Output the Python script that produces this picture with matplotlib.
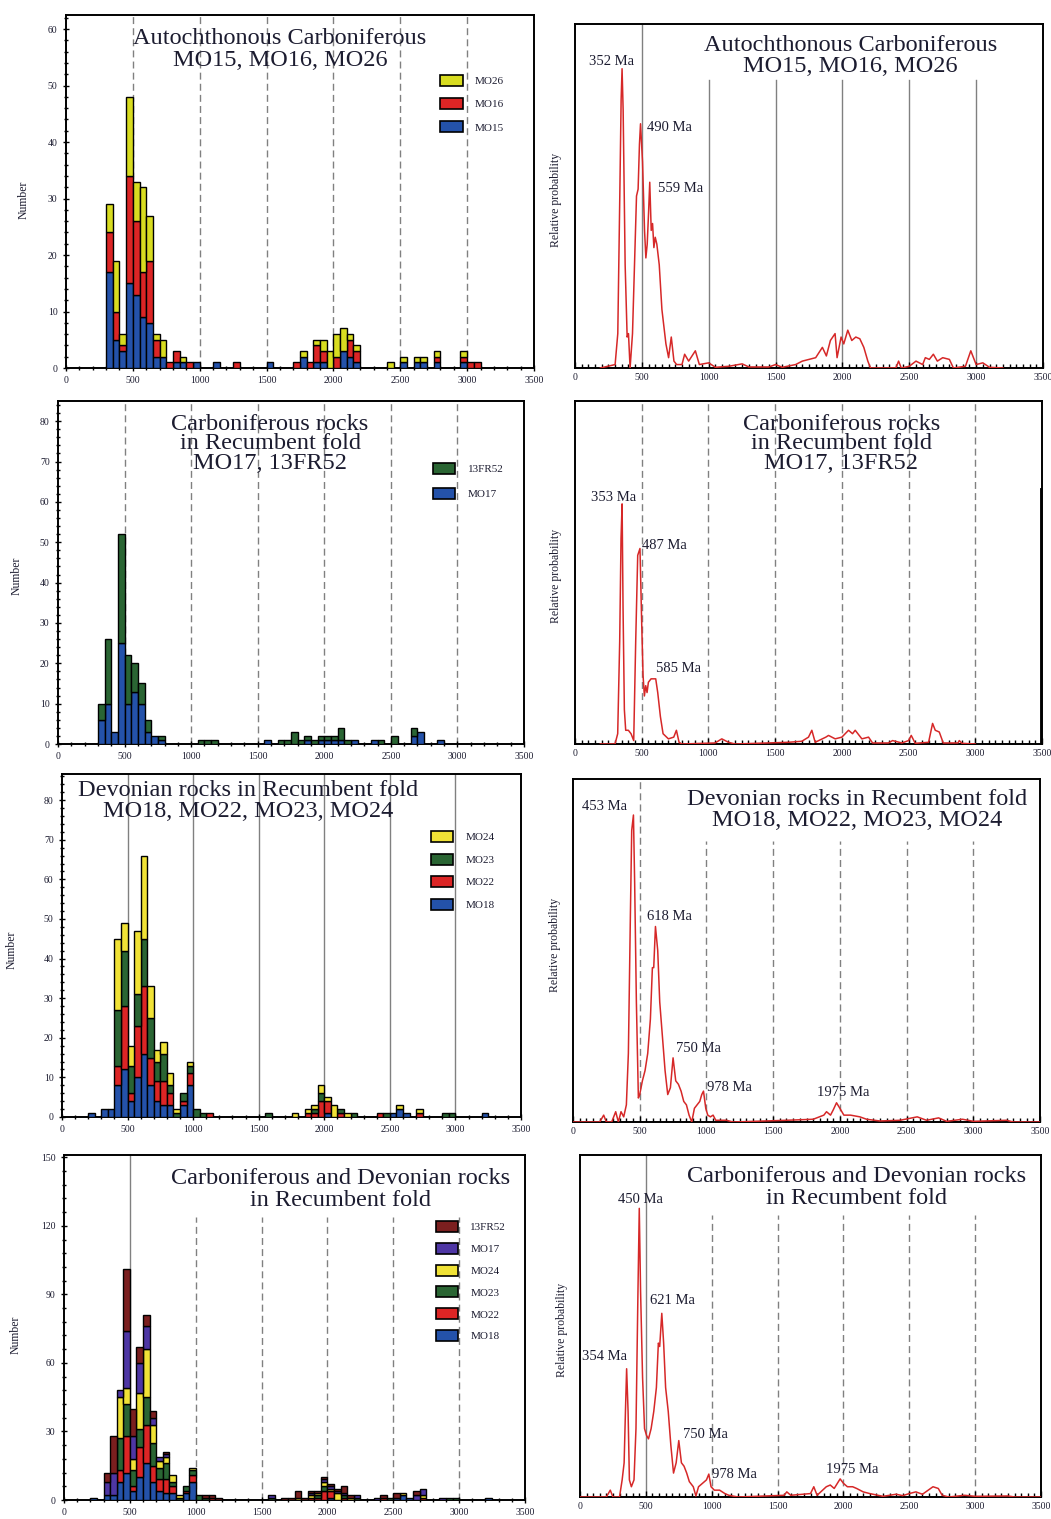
import matplotlib
matplotlib.use('Agg')
import numpy as np
from matplotlib import pyplot as plt
from matplotlib.patches import Patch
from matplotlib.ticker import MultipleLocator

plt.rcParams['font.family'] = ['Liberation Serif', 'DejaVu Serif']

# ---- histogram data: bin starts (Ma, 50 Ma bins) and counts per sample ----
auto_bins = [300, 350, 400, 450, 500, 550, 600, 650, 700, 750, 800, 850, 900, 950, 1100, 1250,
             1500, 1700, 1750, 1800, 1850, 1900, 1950, 2000, 2050, 2100, 2150, 2400, 2500, 2600,
             2650, 2750, 2950, 3000, 3050]
auto_mo15 = [17, 5, 3, 15, 13, 9, 8, 2, 2, 0, 1, 1, 0, 1, 1, 0, 1, 0, 2, 0, 1, 1, 0, 0, 3, 2, 1, 0, 1, 1, 1, 1, 1, 0, 0]
auto_mo16 = [7, 5, 1, 19, 13, 8, 11, 3, 0, 1, 2, 0, 1, 0, 0, 1, 0, 1, 0, 1, 3, 2, 0, 2, 0, 3, 2, 0, 0, 0, 0, 1, 1, 1, 1]
auto_mo26 = [5, 9, 2, 14, 7, 15, 8, 1, 3, 0, 0, 1, 0, 0, 0, 0, 0, 0, 1, 0, 1, 2, 3, 4, 4, 1, 1, 1, 1, 1, 1, 1, 1, 0, 0]

carb_bins = [300, 350, 400, 450, 500, 550, 600, 650, 700, 750, 1050, 1100, 1150, 1550, 1650, 1700,
             1750, 1800, 1850, 1900, 1950, 2000, 2050, 2100, 2150, 2200, 2350, 2400, 2500, 2650, 2700, 2850]
carb_mo17 = [6, 10, 3, 25, 10, 13, 10, 3, 2, 1, 0, 0, 0, 1, 0, 0, 0, 0, 1, 0, 1, 1, 1, 1, 0, 1, 1, 0, 0, 2, 3, 1]
carb_13fr52 = [4, 16, 0, 27, 12, 7, 5, 3, 0, 1, 1, 1, 1, 0, 1, 1, 3, 1, 1, 1, 1, 1, 1, 3, 1, 0, 0, 1, 2, 2, 0, 0]

dev_bins = [200, 300, 350, 400, 450, 500, 550, 600, 650, 700, 750, 800, 850, 900, 950, 1000, 1050,
            1100, 1550, 1750, 1850, 1900, 1950, 2000, 2050, 2100, 2150, 2200, 2400, 2450, 2500, 2550,
            2600, 2700, 2900, 2950, 3200]
dev_mo18 = [1, 2, 2, 8, 12, 4, 10, 16, 8, 4, 3, 3, 0, 3, 8, 0, 0, 0, 0, 0, 0, 0, 0, 1, 0, 0, 0, 0, 0, 0, 1, 2, 1, 0, 0, 0, 1]
dev_mo22 = [0, 0, 0, 5, 16, 2, 13, 17, 7, 5, 6, 3, 0, 1, 3, 0, 0, 1, 0, 0, 1, 1, 4, 3, 0, 1, 0, 0, 1, 0, 0, 0, 0, 1, 0, 0, 0]
dev_mo23 = [0, 0, 0, 14, 14, 7, 8, 12, 10, 5, 7, 2, 1, 2, 2, 2, 1, 0, 1, 0, 0, 1, 2, 0, 0, 1, 0, 1, 0, 1, 0, 0, 0, 0, 1, 1, 0]
dev_mo24 = [0, 0, 0, 18, 7, 5, 16, 21, 8, 3, 3, 3, 1, 0, 1, 0, 0, 0, 0, 1, 1, 1, 2, 1, 3, 0, 1, 0, 0, 0, 0, 1, 0, 1, 0, 0, 0]

# ---- probability density curves (age Ma, relative probability) ----
b_age = [190, 300, 320, 335, 345, 352, 360, 375, 390, 400, 412, 430, 445, 460, 472, 482, 490, 505, 520, 530,
         540, 550, 559, 570, 580, 590, 600, 612, 630, 650, 680, 700, 720, 740, 760, 800, 820, 850, 900, 930,
         1000, 1050, 1150, 1250, 1300, 1450, 1500, 1550, 1650, 1700, 1750, 1800, 1850, 1880, 1910, 1945, 1960,
         1990, 2010, 2040, 2070, 2100, 2130, 2160, 2190, 2210, 2400, 2420, 2440, 2500, 2550, 2600, 2620, 2650,
         2680, 2710, 2750, 2800, 2830, 2920, 2960, 3000, 3050, 3100, 3200]
b_prob = [0, 0.01, 0.1, 0.5, 0.78, 0.87, 0.75, 0.3, 0.09, 0.1, 0.0, 0.1, 0.3, 0.5, 0.52, 0.65, 0.71, 0.6, 0.4, 0.32,
          0.36, 0.45, 0.54, 0.4, 0.42, 0.35, 0.38, 0.36, 0.3, 0.17, 0.07, 0.03, 0.09, 0.02, 0.01, 0.01, 0.04, 0.02, 0.05, 0.01,
          0.015, 0.002, 0.005, 0.012, 0.003, 0.003, 0.01, 0.002, 0.01, 0.02, 0.025, 0.03, 0.06, 0.035, 0.08, 0.1, 0.03,
          0.09, 0.07, 0.11, 0.08, 0.09, 0.085, 0.06, 0.02, 0.0, 0.0, 0.02, 0.0, 0.005, 0.02, 0.01, 0.03, 0.025,
          0.04, 0.02, 0.03, 0.025, 0.0, 0.005, 0.05, 0.01, 0.015, 0.002, 0.0]

d_age = [190, 300, 320, 335, 345, 353, 360, 370, 380, 400, 420, 440, 455, 470, 487, 500, 510, 520, 530, 540,
         550, 570, 585, 605, 620, 640, 660, 700, 740, 760, 780, 800, 1050, 1100, 1150, 1200, 1600, 1700, 1750, 1775,
         1800, 1880, 1900, 1950, 2000, 2050, 2080, 2100, 2150, 2200, 2230, 2350, 2380, 2450, 2500, 2520, 2550, 2650,
         2680, 2700, 2730, 2760, 2870, 2880, 2900, 3000]
d_prob = [0, 0, 0.03, 0.3, 0.6, 0.70, 0.4, 0.1, 0.04, 0.04, 0.03, 0.01, 0.3, 0.55, 0.57, 0.35, 0.2, 0.14, 0.17, 0.15,
          0.18, 0.19, 0.19, 0.19, 0.15, 0.08, 0.03, 0.015, 0.02, 0.04, 0.005, 0, 0.003, 0.015, 0.005, 0, 0.005, 0.008, 0.02, 0.04,
          0.005, 0.02, 0.025, 0.015, 0.02, 0.04, 0.03, 0.04, 0.015, 0.02, 0.003, 0.003, 0.01, 0.003, 0.01, 0.025, 0.002, 0.005,
          0.06, 0.04, 0.035, 0.003, 0.003, 0.01, 0.002, 0]

f_age = [0, 200, 230, 250, 290, 320, 340, 360, 380, 400, 415, 430, 440, 453, 462, 475, 490, 500, 520, 540,
         560, 580, 595, 605, 618, 635, 650, 670, 690, 710, 730, 750, 770, 790, 810, 830, 850, 870, 890, 910,
         930, 950, 965, 978, 995, 1010, 1030, 1050, 1070, 1150, 1200, 1600, 1800, 1880, 1900, 1930, 1950, 1975, 2000, 2030,
         2080, 2150, 2200, 2300, 2450, 2580, 2650, 2740, 2800, 2920, 3000, 3250, 3300, 3500]
f_prob = [0, 0, 0.02, 0, 0, 0.03, 0, 0.03, 0.015, 0.05, 0.2, 0.6, 0.85, 0.895, 0.7, 0.35, 0.07, 0.08, 0.12, 0.15,
          0.2, 0.3, 0.45, 0.45, 0.57, 0.5, 0.35, 0.25, 0.15, 0.08, 0.1, 0.187, 0.12, 0.11, 0.09, 0.06, 0.05, 0.02, 0.0, 0.04,
          0.05, 0.06, 0.08, 0.09, 0.04, 0.02, 0.015, 0.02, 0.005, 0.005, 0, 0.005, 0.008, 0.02, 0.03, 0.02, 0.035, 0.056, 0.04, 0.02,
          0.02, 0.015, 0.008, 0.003, 0.005, 0.015, 0.005, 0.012, 0.002, 0.008, 0.002, 0.005, 0, 0]

h_age = [0, 200, 230, 250, 300, 320, 335, 345, 354, 365, 375, 390, 410, 425, 440, 450, 460, 475, 490, 505,
         520, 540, 560, 580, 595, 605, 621, 635, 650, 670, 690, 710, 730, 750, 770, 790, 810, 830, 860, 880,
         900, 930, 960, 978, 995, 1020, 1060, 1100, 1130, 1200, 1550, 1570, 1600, 1750, 1775, 1800, 1870, 1900, 1930, 1975,
         2000, 2030, 2070, 2100, 2150, 2200, 2300, 2400, 2450, 2500, 2550, 2600, 2680, 2720, 2750, 2800, 2920, 3000, 3250, 3300, 3500]
h_prob = [0, 0, 0.02, 0, 0, 0.05, 0.1, 0.25, 0.375, 0.25, 0.05, 0.03, 0.05, 0.2, 0.6, 0.844, 0.6, 0.35, 0.2, 0.18,
          0.17, 0.2, 0.25, 0.32, 0.45, 0.44, 0.537, 0.45, 0.32, 0.25, 0.15, 0.07, 0.1, 0.165, 0.1, 0.09, 0.07, 0.045, 0.03, 0.003,
          0.03, 0.04, 0.05, 0.067, 0.03, 0.02, 0.02, 0.01, 0.005, 0, 0.005, 0.015, 0.005, 0.01, 0.03, 0.005, 0.03, 0.035, 0.025, 0.053,
          0.04, 0.03, 0.03, 0.025, 0.015, 0.01, 0.002, 0.008, 0.004, 0.01, 0.015, 0.008, 0.03, 0.025, 0.005, 0, 0.005, 0.002, 0.003, 0, 0]

# peak labels
b_peaks = ['352 Ma', '490 Ma', '559 Ma']
d_peaks = ['353 Ma', '487 Ma', '585 Ma']
f_peaks = ['453 Ma', '618 Ma', '750 Ma', '978 Ma', '1975 Ma']
h_peaks = ['450 Ma', '621 Ma', '354 Ma', '750 Ma', '978 Ma', '1975 Ma']

YEL1, YEL = '#d8dc20', '#f0e236'
RED, BLUE, GREEN = '#dc2525', '#2452aa', '#2a6533'
DKRED, PURPLE = '#7b1f1f', '#4e36a4'
CURVE = '#d62828'
GRID = '#808080'
TXT = '#1c1c30'

W, H = 1051, 1519
fig = plt.figure(figsize=(W / 100, H / 100), dpi=100)


def axes_px(left, top, right, bottom):
    return fig.add_axes([left / W, 1 - bottom / H, (right - left) / W, (bottom - top) / H])


def on_bins(bins, vals, target):
    m = dict(zip(bins, vals))
    return np.array([m.get(b, 0) for b in target], dtype=float)


def frame(ax):
    ax.set_xlim(0, 3500)
    for s in ax.spines.values():
        s.set_linewidth(1.4)
        s.set_color('black')
    ax.xaxis.set_major_locator(MultipleLocator(500))


def grid(ax, full, partial, ymax, ls_full, ls_part):
    for x in full:
        ax.axvline(x, color=GRID, lw=1.0, ls=ls_full, zorder=1)
    for x in partial:
        ax.axvline(x, ymin=0, ymax=ymax, color=GRID, lw=1.0, ls=ls_part, zorder=1)


def hist_panel(ax, bins, series, labels, colors, ymax, ymaj, ymin_step, leg_xy, leg_sp, ylab_xy):
    frame(ax)
    ax.set_ylim(0, ymax)
    bottom = np.zeros(len(bins))
    x = np.array(bins, dtype=float)
    for vals, c in zip(series, colors):
        v = np.array(vals, dtype=float)
        m = v > 0
        ax.bar(x[m], v[m], width=50, bottom=bottom[m], align='edge', color=c,
               edgecolor='black', linewidth=1.0, zorder=3)
        bottom += v
    ax.yaxis.set_major_locator(MultipleLocator(ymaj))
    ax.yaxis.set_minor_locator(MultipleLocator(ymin_step))
    ax.xaxis.set_minor_locator(MultipleLocator(100))
    ax.tick_params(which='both', direction='inout', labelsize=7, width=1.0, colors='black', labelcolor=TXT)
    ax.tick_params(which='major', length=5)
    ax.tick_params(which='minor', length=3)
    ax.set_ylabel('Number', fontsize=8.5, color=TXT)
    ax.yaxis.set_label_coords(*ylab_xy)
    handles = [Patch(facecolor=c, edgecolor='black', linewidth=1.2, label=l)
               for l, c in zip(labels[::-1], colors[::-1])]
    ax.legend(handles=handles, loc='upper left', bbox_to_anchor=leg_xy, frameon=False,
              fontsize=8, handlelength=2.0, handleheight=1.15, labelspacing=leg_sp,
              handletextpad=1.1, borderaxespad=0, borderpad=0, labelcolor=TXT)


def prob_panel(ax, age, prob, ylab_xy):
    frame(ax)
    ax.set_ylim(0, 1)
    ax.plot(age, prob, color=CURVE, lw=1.1, zorder=3)
    ax.set_yticks([])
    ax.xaxis.set_minor_locator(MultipleLocator(50))
    ax.tick_params(axis='x', which='both', direction='in', labelsize=7, width=1.0, labelcolor=TXT)
    ax.tick_params(axis='x', which='major', length=4)
    ax.tick_params(axis='x', which='minor', length=3)
    ax.set_ylabel('Relative probability', fontsize=8.5, color=TXT)
    ax.yaxis.set_label_coords(*ylab_xy)


def title(ax, text, x, y, ls):
    ax.text(x, y, text, transform=ax.transAxes, ha='center', va='center', fontsize=17.5,
            color=TXT, linespacing=ls, zorder=5)


def peak_labels(ax, labels, spots):
    for lab, (x, y) in zip(labels, spots):
        ax.text(x, y, lab, ha='left', va='center', fontsize=10.5, color=TXT, zorder=5)


rest = [1000, 1500, 2000, 2500, 3000]
allg = [500] + rest

# Row 1
axA = axes_px(66, 15, 534, 368)
hist_panel(axA, auto_bins, [auto_mo15, auto_mo16, auto_mo26], ['MO15', 'MO16', 'MO26'],
           [BLUE, RED, YEL1], 62.5, 10, 2, (0.80, 0.83), 1.07, (-0.077, 0.476))
grid(axA, allg, [], 1, (0, (5, 3)), '-')
title(axA, 'Autochthonous Carboniferous\nMO15, MO16, MO26', 0.457, 0.902, 1.02)

axB = axes_px(575, 24, 1043, 368)
prob_panel(axB, b_age, b_prob, (-0.028, 0.49))
grid(axB, [500], rest, 0.837, '-', '-')
title(axB, 'Autochthonous Carboniferous\nMO15, MO16, MO26', 0.588, 0.907, 1.02)
peak_labels(axB, b_peaks, [(105, 0.89), (537, 0.70), (617, 0.523)])

# Row 2
axC = axes_px(58, 401, 524, 744)
hist_panel(axC, carb_bins, [carb_mo17, carb_13fr52], ['MO17', '13FR52'],
           [BLUE, GREEN], 85, 10, 2, (0.805, 0.819), 1.23, (-0.077, 0.49))
grid(axC, allg, [], 1, (0, (5, 3)), '-')
title(axC, 'Carboniferous rocks\nin Recumbent fold\nMO17, 13FR52', 0.455, 0.875, 0.9)

axD = axes_px(575, 401, 1042, 744)
prob_panel(axD, d_age, d_prob, (-0.028, 0.49))
grid(axD, allg, [], 1, (0, (5, 3)), '-')
axD.axvline(3500, ymin=0, ymax=0.74, color='black', lw=3.5, zorder=4)
title(axD, 'Carboniferous rocks\nin Recumbent fold\nMO17, 13FR52', 0.57, 0.875, 0.9)
peak_labels(axD, d_peaks, [(117, 0.72), (505, 0.58), (605, 0.22)])

# Row 3
axE = axes_px(62, 774, 521, 1117)
hist_panel(axE, dev_bins, [dev_mo18, dev_mo22, dev_mo23, dev_mo24], ['MO18', 'MO22', 'MO23', 'MO24'],
           [BLUE, RED, GREEN, YEL], 86.6, 10, 2, (0.804, 0.834), 1.02, (-0.096, 0.487))
grid(axE, allg, [], 1, '-', '-')
title(axE, 'Devonian rocks in Recumbent fold\nMO18, MO22, MO23, MO24', 0.405, 0.921, 0.98)

axF = axes_px(573, 779, 1040, 1122)
prob_panel(axF, f_age, f_prob, (-0.026, 0.516))
grid(axF, [500], rest, 0.82, (0, (5, 3)), (0, (5, 3)))
title(axF, 'Devonian rocks in Recumbent fold\nMO18, MO22, MO23, MO24', 0.608, 0.91, 1.02)
peak_labels(axF, f_peaks, [(68, 0.92), (555, 0.60), (775, 0.214), (1005, 0.10), (1825, 0.085)])

# Row 4: both groups together
comb_bins = sorted(set(carb_bins) | set(dev_bins))
comb_series = [on_bins(dev_bins, dev_mo18, comb_bins), on_bins(dev_bins, dev_mo22, comb_bins),
               on_bins(dev_bins, dev_mo23, comb_bins), on_bins(dev_bins, dev_mo24, comb_bins),
               on_bins(carb_bins, carb_mo17, comb_bins), on_bins(carb_bins, carb_13fr52, comb_bins)]
axG = axes_px(64, 1155, 525, 1500)
hist_panel(axG, comb_bins, comb_series, ['MO18', 'MO22', 'MO23', 'MO24', 'MO17', '13FR52'],
           [BLUE, RED, GREEN, YEL, PURPLE, DKRED], 151, 30, 6, (0.807, 0.809), 0.95, (-0.091, 0.478))
grid(axG, [500], rest, 0.82, '-', (0, (5, 3)))
title(axG, 'Carboniferous and Devonian rocks\nin Recumbent fold', 0.599, 0.901, 1.07)

axH = axes_px(580, 1155, 1041, 1497)
prob_panel(axH, h_age, h_prob, (-0.026, 0.488))
grid(axH, [500], rest, 0.825, '-', (0, (5, 3)))
title(axH, 'Carboniferous and Devonian rocks\nin Recumbent fold', 0.599, 0.904, 1.07)
peak_labels(axH, h_peaks, [(290, 0.869), (530, 0.574), (13, 0.41), (783, 0.184), (1000, 0.067), (1870, 0.08)])

fig.savefig('out.png', dpi=100)
